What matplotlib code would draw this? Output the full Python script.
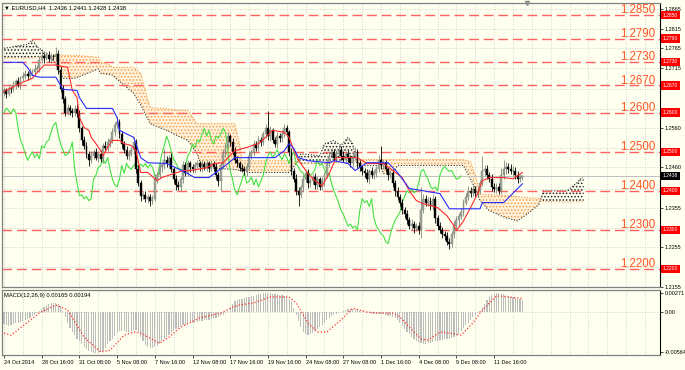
import numpy as np
import matplotlib
matplotlib.use("Agg")
import matplotlib.pyplot as plt
import matplotlib.transforms as mtransforms

plt.rcParams['font.family'] = ['Liberation Sans', 'DejaVu Sans']
plt.rcParams['hatch.linewidth'] = 0.7

# EURUSD H4, prices in pips above 1.2000
first_open = 650
closes = [657, 648, 662, 660, 672, 680, 672, 688, 695, 700, 693, 705, 705, 712, 715, 735, 745,
          740, 748, 738, 745, 742, 750, 710, 660, 635, 600, 612, 605, 598, 610, 600, 560, 530, 515,
          495, 478, 490, 500, 485, 495, 482, 515, 510, 525, 530, 550, 568, 575, 545, 520, 505, 490, 495,
          505, 525, 455, 420, 388, 390, 380, 385, 375, 380, 430, 440, 460, 465, 480, 470,
          485, 455, 430, 415, 410, 430, 465, 445, 470, 460, 455, 465, 470, 460, 468,
          462, 470, 458, 468, 460, 440, 425, 465, 495, 515, 540, 525, 500, 480, 470, 458,
          455, 450, 462, 490, 500, 520, 510, 530, 525, 545, 560, 540, 555, 530, 520, 540, 535,
          545, 560, 550, 500, 450, 430, 400, 390, 410, 430, 445, 420, 425, 435, 415, 430,
          410, 425, 440, 470, 490, 500, 485, 495, 505, 490, 480, 495, 485, 470, 490,
          500, 470, 460, 450, 445, 430, 450, 440, 445, 455, 480, 465, 470, 455, 440, 445,
          420, 400, 385, 370, 350, 340, 325, 310, 315, 305, 310, 300, 350, 380,
          370, 375, 360, 380, 330, 310, 300, 290, 285, 270, 265,
          290, 310, 325, 335, 345, 370, 385, 400, 395, 405, 395, 400, 420, 450, 455, 440,
          430, 410, 405, 410, 400, 440, 455, 462, 455, 450, 452, 440, 430, 432, 438]
wick_up = [8, 6, 10, 5, 9, 7, 12, 6, 8, 10, 7, 9, 6, 14, 8, 10, 12, 9, 7, 11,
           8, 6, 18, 10, 9, 12, 7, 10, 8, 6, 9, 12, 8, 7, 10, 9, 6, 11, 8, 9,
           7, 10, 8, 12, 9, 6, 10, 8, 14, 9, 8, 7, 10, 9, 6, 12, 8, 10, 9, 7,
           10, 8, 6, 9, 12, 8, 10, 7, 28, 9, 8, 11, 7, 10, 9, 6, 12, 8, 10, 7,
           9, 8, 10, 6, 11, 8, 9, 7, 12, 8, 10, 7, 9, 12, 8, 10, 6, 9, 11, 8,
           7, 10, 8, 9, 12, 6, 10, 8, 11, 9, 8, 12, 45, 10, 7, 9, 11, 8, 10, 12,
           9, 7, 10, 8, 12, 9, 6, 10, 8, 11, 7, 9, 10, 8, 6, 11, 9, 8, 12, 10,
           8, 10, 7, 9, 11, 8, 10, 6, 9, 12, 8, 10, 7, 9, 11, 6, 10, 8, 9, 12,
           35, 8, 10, 7, 9, 11, 8, 10, 6, 9, 8, 10, 7, 12, 9, 8, 10, 60, 12, 9,
           10, 8, 11, 7, 9, 10, 8, 6, 9, 10, 8, 12, 10, 9, 11, 8, 10, 12, 9, 10,
           8, 11, 9, 40, 12, 10, 8, 14, 9, 11, 10, 18, 25, 12, 9, 14, 11, 8, 12, 10, 3]
wick_dn = [7, 10, 6, 9, 8, 12, 6, 10, 7, 9, 8, 6, 11, 7, 9, 10, 8, 12, 6, 9,
           10, 7, 9, 12, 8, 10, 9, 6, 11, 8, 7, 10, 9, 12, 8, 10, 15, 8, 9, 7,
           11, 8, 10, 6, 9, 12, 8, 10, 7, 9, 10, 8, 9, 12, 7, 10, 9, 8, 14, 10,
           8, 12, 15, 9, 7, 10, 8, 11, 9, 8, 10, 7, 9, 12, 8, 10, 9, 8, 6, 11,
           8, 10, 7, 9, 12, 8, 10, 9, 7, 8, 10, 12, 25, 8, 9, 7, 11, 8, 10, 9,
           8, 7, 10, 12, 9, 8, 11, 7, 9, 10, 8, 10, 9, 12, 7, 8, 10, 9, 11, 8,
           10, 12, 9, 8, 11, 28, 9, 10, 8, 12, 9, 7, 10, 11, 8, 9, 12, 8, 10, 7,
           9, 10, 8, 11, 7, 9, 12, 8, 10, 9, 11, 8, 10, 9, 7, 12, 8, 10, 9, 8,
           10, 9, 7, 11, 8, 10, 12, 9, 8, 10, 9, 11, 8, 10, 12, 9, 11, 20, 8, 10,
           9, 8, 10, 12, 9, 8, 10, 11, 9, 14, 8, 10, 9, 12, 8, 10, 7, 9, 11, 8,
           10, 8, 9, 7, 12, 10, 8, 11, 9, 10, 9, 8, 10, 12, 9, 8, 11, 9, 10, 8, 4]

tenkan_bars = [0, 8, 12, 15, 17, 22, 27, 29, 31, 32, 34, 36, 37, 39, 41, 42, 45, 46, 49, 51,
               54, 56, 58, 61, 65, 67, 72, 76, 79, 86, 89, 93, 95, 98, 103, 108, 111, 114, 119, 121,
               123, 125, 126, 129, 132, 135, 138, 141, 146, 150, 154, 161, 165, 169, 172, 175, 178, 184, 188, 191,
               192, 195, 198, 201, 203, 206, 212, 216, 220]
tenkan_vals = [655, 678, 688, 709, 722, 722, 716, 657, 639, 588, 562, 555, 537, 521, 503, 490, 521, 529, 529, 521,
               516, 503, 447, 447, 426, 434, 444, 452, 452, 459, 470, 472, 485, 503, 511, 521, 537, 555, 550, 537,
               503, 477, 470, 444, 426, 413, 444, 485, 485, 485, 470, 470, 452, 434, 400, 375, 367, 357, 336, 310,
               298, 323, 357, 393, 426, 434, 434, 431, 447]
kijun_bars = [0, 8, 10, 12, 15, 22, 25, 31, 32, 35, 46, 48, 49, 55, 56, 58, 61, 69, 73, 77,
              81, 87, 91, 94, 98, 115, 119, 121, 123, 125, 129, 138, 140, 146, 149, 154, 163, 167, 172, 178,
              185, 189, 202, 203, 212, 215, 220]
kijun_vals = [729, 729, 716, 696, 691, 691, 660, 657, 639, 611, 611, 588, 555, 537, 521, 485, 472, 470, 459, 447,
              434, 434, 452, 465, 485, 485, 503, 521, 508, 485, 477, 472, 477, 470, 452, 472, 472, 447, 406, 400,
              393, 354, 354, 370, 370, 388, 418]
cloud_bars = [0, 5, 10, 12, 14, 16, 19, 22, 25, 30, 40, 41, 45, 46, 55, 58, 62, 69, 75, 78,
              82, 84, 98, 100, 101, 104, 121, 124, 126, 134, 136, 140, 143, 146, 148, 150, 160, 161, 165, 167,
              195, 198, 200, 202, 206, 213, 218, 223, 227, 229, 239, 243, 246]
span_a = [765, 770, 775, 786, 770, 760, 748, 725, 688, 688, 712, 701, 698, 696, 650, 620, 572, 555, 537, 529,
          495, 459, 455, 452, 452, 447, 447, 470, 495, 490, 520, 529, 516, 537, 520, 464, 465, 444, 444, 465,
          465, 430, 406, 375, 349, 331, 323, 345, 365, 400, 400, 420, 439]
span_b = [740, 740, 740, 740, 742, 745, 746, 747, 747, 747, 742, 730, 722, 716, 716, 701, 613, 610, 606, 606,
          572, 572, 572, 520, 477, 477, 477, 474, 470, 470, 470, 472, 472, 472, 472, 480, 480, 480, 480, 480,
          480, 474, 440, 392, 390, 388, 385, 382, 380, 372, 372, 372, 372]

# MACD(12,26,9), units of 1e-5
macd_main = [-170, -185, -195, -190, -175, -160, -150, -140, -125, -110, -95, -80, -60, -40, -20,
             10, 40, 70, 95, 115, 130, 130, 125, 110, 80, 20, -70, -150,
             -230, -280, -330, -380, -420, -460, -500, -530, -560, -575, -585, -590, -585, -575,
             -550, -510, -460, -420, -380, -340, -300, -270,
             -265, -270, -280, -285, -275, -260, -255, -290, -360,
             -420, -470, -505, -520, -515, -500, -480,
             -450, -420, -390, -360, -330, -300, -270, -245, -225, -205, -190, -180, -170,
             -160, -150, -150, -140, -130, -125, -120, -115, -110, -100, -90, -80, -70, -55, -40, -20, 10, 60,
             110, 150, 170, 180, 190, 200, 210, 220, 230, 235, 245, 255, 260, 265, 270, 270,
             268, 262, 255, 250, 245, 240, 230, 215, 190, 150,
             60, -40, -130, -210, -280, -320, -330, -320,
             -300, -270, -240, -210, -180, -150, -120, -90, -60, -40, -25, -10, 5,
             20, 35, 45, 50, 45, 40, 30, 20, 10, 0, -10, -20,
             -25, -30, -30, -25, -30, -35, -45, -55, -60, -70, -90, -120, -160,
             -200, -240, -280, -320, -350, -380, -410, -430, -440, -450, -450, -445, -440,
             -430, -420, -410, -400, -395, -390, -385, -380, -375, -360, -340, -310, -270,
             -230, -190, -150, -110, -70, -40, -10, 20,
             70, 120, 170, 210, 240, 260, 270, 268, 260, 250, 240, 230, 220, 210, 200, 190, 180, 165]
signal_bars = [0, 3, 15, 22, 27, 34, 41, 45, 51, 55, 58, 66, 70, 75, 83, 92, 97, 100, 106, 113,
               121, 124, 129, 133, 137, 143, 148, 154, 160, 165, 168, 172, 177, 180, 185, 189, 194, 199, 202, 206,
               209, 220]
signal_vals = [-300, -330, -15, 100, 30, -360, -570, -545, -330, -285, -300, -445, -360, -215, -85, -15, 70, 100, 130, 215,
               215, 130, -155, -285, -285, -115, 55, 0, -15, -15, -70, -215, -385, -400, -285, -300, -330, -155, -15, 130,
               230, 194]

date_labels = ["24 Oct 2014", "28 Oct 16:00", "31 Oct 08:00", "5 Nov 08:00", "7 Nov 16:00",
               "12 Nov 08:00", "17 Nov 16:00", "19 Nov 16:00", "24 Nov 08:00", "27 Nov 08:00",
               "1 Dec 16:00", "4 Dec 08:00", "9 Dec 08:00", "11 Dec 16:00"]
levels = [1.2850, 1.2790, 1.2730, 1.2670, 1.2600, 1.2500, 1.2400, 1.2300, 1.2200]
price_ticks = [1.2865, 1.2815, 1.2765, 1.2715, 1.2660, 1.2610, 1.2560, 1.2510, 1.2460,
               1.2405, 1.2355, 1.2305, 1.2255, 1.2205, 1.2155]
bid = 1.2438

BG = '#fffff0'
GRID = '#c4c4c4'

fig = plt.figure(figsize=(6.85, 3.7), dpi=100, facecolor=BG)
ax = fig.add_axes([2 / 685, 1 - 287 / 370, 658 / 685, 284 / 370], facecolor=BG)
ax2 = fig.add_axes([2 / 685, 1 - 355 / 370, 658 / 685, 65 / 370], facecolor=BG)

xmin, xmax = -0.85, 278.4
ax.set_xlim(xmin, xmax)
ax.set_ylim(1.21538, 1.28809)
ax2.set_xlim(xmin, xmax)
ax2.set_ylim(-0.00613, 0.00314)

def px(v):
    return 1.2 + np.asarray(v, dtype=float) / 1e4

# grid
for a in (ax, ax2):
    for b in range(0, 280, 8):
        a.axvline(b, color=GRID, lw=0.6, ls=(0, (1, 2)), zorder=0.5)
for t in price_ticks:
    ax.axhline(t, color=GRID, lw=0.6, ls=(0, (1, 2)), zorder=0.5)
ax2.axhline(0, color=GRID, lw=0.6, ls=(0, (1, 2)), zorder=0.5)

# cloud
cb = np.array(cloud_bars, dtype=float)
sa = px(span_a)
sb = px(span_b)
bear = sb >= sa
ax.fill_between(cb, sa, sb, where=bear, interpolate=True, facecolor='#fff2dc', edgecolor='none', zorder=1)
ax.fill_between(cb, sa, sb, where=bear, interpolate=True, facecolor='none', edgecolor='#f7a04a',
                hatch='.....', linewidth=0, zorder=1.1)
ax.fill_between(cb, sa, sb, where=~bear, interpolate=True, facecolor='none', edgecolor='#202020',
                hatch='.....', linewidth=0, zorder=1.1)
ax.plot(cb, sa, color='#303030', lw=0.8, ls=(0, (1, 1.5)), zorder=1.2)
ax.plot(cb, sb, color='#f59a3c', lw=0.8, ls=(0, (1, 1.5)), zorder=1.2)

# level lines
trans = mtransforms.blended_transform_factory(ax.transAxes, ax.transData)
for lv in levels:
    ax.axhline(lv, color='#ff6060', lw=1.0, dashes=(7, 3.5), zorder=1.5)
    ax.text(0.9925, lv + 0.00045, f"{lv:.4f}", transform=trans, ha='right', va='baseline',
            fontsize=8.3, color='#ff5522', zorder=6)
    ax.text(1.004, lv, f"{lv:.4f}", transform=trans, ha='left', va='center', fontsize=3.6,
            color='white', clip_on=False, zorder=10,
            bbox=dict(boxstyle='square,pad=0.35', fc='#ff0000', ec='none'))
ax.axhline(bid, color='#c0c0c0', lw=0.7, zorder=1.3)
ax.text(1.004, bid, f"{bid:.4f}", transform=trans, ha='left', va='center', fontsize=3.6,
        color='white', clip_on=False, zorder=11,
        bbox=dict(boxstyle='square,pad=0.35', fc='#000000', ec='none'))

# chikou span: closes shifted back 26 bars
c = px(closes)
ax.plot(np.arange(len(c) - 26), c[26:], color='#44e044', lw=0.8, zorder=2)

# candles
o = np.r_[px(first_open), c[:-1]]
hi = np.maximum(o, c) + np.array(wick_up) / 1e4
lo = np.minimum(o, c) - np.array(wick_dn) / 1e4
x = np.arange(len(c))
up = c >= o
ax.vlines(x[up], lo[up], hi[up], color='#7f877d', lw=0.6, zorder=3)
ax.vlines(x[~up], lo[~up], hi[~up], color='#000000', lw=0.6, zorder=3)
body = np.where(np.abs(c - o) < 0.00004, 0.00004, c - o)
ax.bar(x[up], body[up], bottom=o[up], width=0.8, color='#a0a89c', edgecolor='#768073', lw=0.3, zorder=3.1)
ax.bar(x[~up], body[~up], bottom=o[~up], width=0.8, color='#000000', edgecolor='#000000', lw=0.3, zorder=3.1)

# tenkan / kijun
ax.plot(tenkan_bars, px(tenkan_vals), color='#ff2a2a', lw=0.8, zorder=4)
ax.plot(kijun_bars, px(kijun_vals), color='#2a2aff', lw=0.8, zorder=4)

# axes styling
for a in (ax, ax2):
    for s in ('left', 'top', 'bottom'):
        a.spines[s].set_color('#808080')
        a.spines[s].set_linewidth(0.9)
    a.spines['right'].set_color('#000000')
    a.spines['right'].set_linewidth(0.8)
    a.yaxis.tick_right()
    a.tick_params(axis='y', length=2, width=0.5, pad=1.2, labelsize=4, colors='#000000')

# tick labels that sit under a level box are hidden, as on the terminal
hidden = [t for t in price_ticks if min(abs(t - lv) for lv in levels + [bid]) < 0.0012]
ax.set_xticks([])
ax.set_yticks(price_ticks)
ax.set_yticklabels(["" if t in hidden else f"{t:.4f}" for t in price_ticks])

ax.text(0.003, 0.993, "\u25bc EURUSD,H4  1.2436 1.2441 1.2428 1.2438", transform=ax.transAxes,
        ha='left', va='top', fontsize=4.2, color='#000000', zorder=12)
ax.plot([0.798], [1.0], marker='v', ms=3, color='#909090', transform=ax.transAxes, clip_on=False, zorder=12)

# MACD panel
ax2.bar(np.arange(len(macd_main)), np.array(macd_main) / 1e5, width=0.5, color='#bdbdbd', zorder=2)
ax2.plot(signal_bars, np.array(signal_vals) / 1e5, color='#ff3030', lw=0.9, ls=(0, (1, 1.6)), zorder=3)
ax2.set_yticks([0.00271, 0.0, -0.00564])
ax2.set_yticklabels(['0.00271', '0.00', '-0.00564'])
ax2.text(0.003, 0.96, "MACD(12,26,9) 0.00165 0.00194", transform=ax2.transAxes,
         ha='left', va='top', fontsize=4.2, color='#000000', zorder=12)
ax2.set_xticks(range(0, 16 * len(date_labels), 16))
ax2.set_xticklabels(date_labels)
ax2.tick_params(axis='x', length=2, width=0.5, pad=1.5, labelsize=4)
for lbl in ax2.get_xticklabels():
    lbl.set_horizontalalignment('left')

fig.savefig("out.png", dpi=100, facecolor=BG)
